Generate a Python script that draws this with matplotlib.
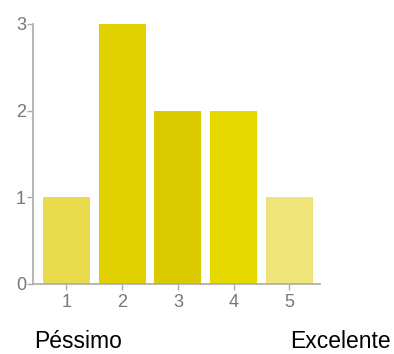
import matplotlib.pyplot as plt

# Distribuição das notas (1 = Péssimo, 5 = Excelente)
notas = [1, 2, 3, 4, 5]
respostas = [1, 3, 2, 2, 1]
cores = ['#E8DB4C', '#E0D000', '#DACB00', '#E6D900', '#EEE47A']

plt.rcParams['font.family'] = ['Liberation Sans', 'DejaVu Sans']

fig = plt.figure(figsize=(3.94, 3.54), dpi=100)
ax = fig.add_axes([33/394, 70/354, 287/394, 260/354])

ax.bar(notas, respostas, width=0.84, color=cores)

ax.set_xlim(0.4, 5.55)
ax.set_ylim(0, 3)
ax.set_xticks(notas)
ax.set_yticks([0, 1, 2, 3])

for lado in ['top', 'right']:
    ax.spines[lado].set_visible(False)
for lado in ['left', 'bottom']:
    ax.spines[lado].set_color('#aaaaaa')
    ax.spines[lado].set_linewidth(1.2)

ax.tick_params(axis='both', colors='#aaaaaa', labelcolor='#777777',
               labelsize=13, length=4, width=1)
ax.tick_params(axis='x', pad=3)
ax.tick_params(axis='y', pad=1)

fig.text(34/394, 1 - 348/354, 'Péssimo', fontsize=16.5, va='baseline', ha='left')
fig.text(391/394, 1 - 348/354, 'Excelente', fontsize=16.5, va='baseline', ha='right')

fig.savefig('out.png', dpi=100)
